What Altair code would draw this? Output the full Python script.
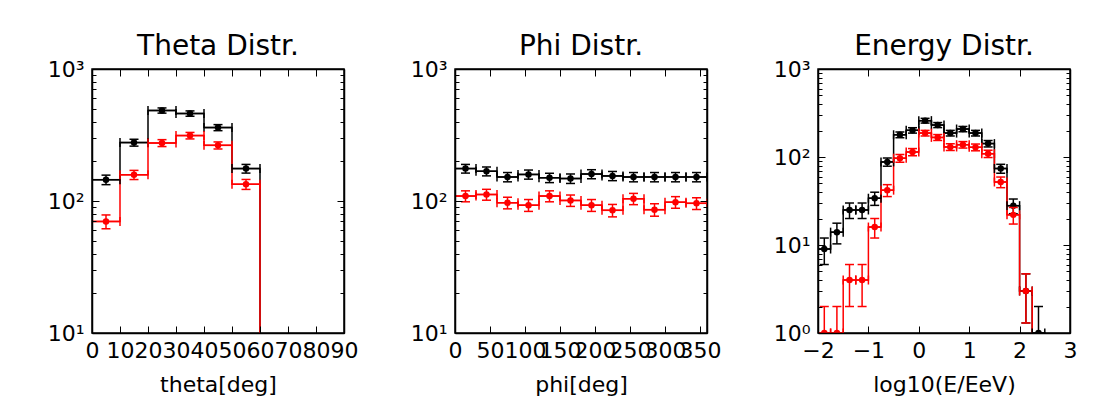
import altair as alt
import pandas as pd

FONT = "DejaVu Sans"
BLACK = "#000000"
RED = "#ff0000"

# ---------------- data ----------------
theta_edges = [0, 10, 20, 30, 40, 50, 60, 70, 80, 90]
theta_all = [145, 277, 485, 460, 360, 176, 0, 0, 0]
theta_all_err = [12.0, 16.6, 22.0, 21.4, 19.0, 13.3, 0, 0, 0]
theta_sel = [70, 158, 275, 313, 264, 134, 0, 0, 0]
theta_sel_err = [8.4, 12.6, 16.6, 17.7, 16.2, 11.6, 0, 0, 0]

phi_edges = [0, 30, 60, 90, 120, 150, 180, 210, 240, 270, 300, 330, 360]
phi_all = [176, 168, 152, 159, 150, 148, 160, 155, 152, 152, 152, 152]
phi_all_err = [13.3, 13.0, 12.3, 12.6, 12.2, 12.2, 12.6, 12.4, 12.3, 12.3, 12.3, 12.3]
phi_sel = [109, 112, 97, 93, 109, 101, 93, 85, 104, 86, 98, 96]
phi_sel_err = [10.4, 10.6, 9.8, 9.6, 10.4, 10.0, 9.6, 9.2, 10.2, 9.3, 9.9, 9.8]

energy_edges = [-2.0, -1.75, -1.5, -1.25, -1.0, -0.75, -0.5, -0.25, 0.0, 0.25,
                0.5, 0.75, 1.0, 1.25, 1.5, 1.75, 2.0, 2.25, 2.5, 2.75, 3.0]
energy_all = [9, 14, 25, 25, 34, 88, 179, 201, 259, 231, 187, 208, 187, 142, 74, 28, 3, 1, 0, 0]
energy_all_err = [3.0, 3.7, 5.0, 5.0, 5.8, 9.4, 13.4, 14.2, 16.1, 15.2, 13.7, 14.4, 13.7,
                  11.9, 8.6, 5.3, 1.7, 1.0, 0, 0]
energy_sel = [1, 1, 4, 4, 16, 42, 97, 114, 187, 167, 130, 138, 129, 109, 52, 22, 3, 0, 0, 0]
energy_sel_err = [1.0, 1.0, 2.0, 2.0, 4.0, 6.5, 9.8, 10.7, 13.7, 12.9, 11.4, 11.7, 11.4,
                  10.4, 7.2, 4.7, 1.7, 0, 0, 0]

theta_xticks = [0, 10, 20, 30, 40, 50, 60, 70, 80, 90]
phi_xticks = [0, 50, 100, 150, 200, 250, 300, 350]
energy_xticks = [-2, -1, 0, 1, 2, 3]

y_major_a = [10, 100, 1000]
y_minor_a = [20, 30, 40, 50, 60, 70, 80, 90, 200, 300, 400, 500, 600, 700, 800, 900]
y_major_e = [1, 10, 100, 1000]
y_minor_e = [2, 3, 4, 5, 6, 7, 8, 9, 20, 30, 40, 50, 60, 70, 80, 90,
             200, 300, 400, 500, 600, 700, 800, 900]

FLOOR = 0.01  # below every axis range, clipped away (stands for an empty bin)

SUP = ("'10' + (datum.value < 5 ? '\u2070' : datum.value < 50 ? '\u00b9' : "
       "datum.value < 500 ? '\u00b2' : '\u00b3')")
XLAB_E = "datum.value < 0 ? '\u2212' + format(-datum.value, 'd') : format(datum.value, 'd')"


def tables(edges, series):
    step_rows, err_rows = [], []
    for name, counts, errs in series:
        k = 0
        for j, c in enumerate(counts):
            v = c if c > 0 else FLOOR
            k += 1
            step_rows.append(dict(s=name, i=k, x=edges[j], y=v))
            k += 1
            step_rows.append(dict(s=name, i=k, x=edges[j + 1], y=v))
            if c > 0:
                lo = c - errs[j]
                err_rows.append(dict(s=name, l=edges[j], r=edges[j + 1],
                                     c=(edges[j] + edges[j + 1]) / 2, v=c,
                                     lo=lo if lo > 0 else FLOOR, hi=c + errs[j]))
    return pd.DataFrame(step_rows), pd.DataFrame(err_rows)


AX = dict(grid=False, tickColor=BLACK, tickWidth=1, zindex=1,
          domainColor=BLACK, domainWidth=1.5,
          labelFont=FONT, labelFontSize=22, labelColor=BLACK,
          titleFont=FONT, titleFontSize=22, titleColor=BLACK, titleFontWeight="normal")


def panel(title, xtitle, edges, series, xdom, xticks, ydom, ymaj, ymin, xlabexpr):
    step_df, err_df = tables(edges, series)
    xs = alt.Scale(domain=xdom, nice=False, zero=False)
    ys = alt.Scale(type="log", domain=ydom, nice=False)
    X = lambda f: alt.X(f, type="quantitative", scale=xs, axis=None)
    Y = lambda f: alt.Y(f, type="quantitative", scale=ys, axis=None)
    cols = {"all": BLACK, "sel": RED}
    layers = []
    for name in ("all", "sel"):
        sd = step_df[step_df.s == name]
        layers.append(alt.Chart(sd).mark_line(color=cols[name], strokeWidth=1.5, clip=True)
                      .encode(x=X("x"), y=Y("y"), order="i:Q"))
    for name in ("all", "sel"):
        col = cols[name]
        b = alt.Chart(err_df[err_df.s == name])
        layers += [
            b.mark_rule(color=col, strokeWidth=1.5, clip=True).encode(x=X("c"), y=Y("lo"), y2="hi:Q"),
            b.mark_rule(color=col, strokeWidth=1.5, clip=True).encode(x=X("l"), x2="r:Q", y=Y("v")),
            b.mark_tick(color=col, orient="horizontal", size=9, thickness=1.5, opacity=1, clip=True)
             .encode(x=X("c"), y=Y("lo")),
            b.mark_tick(color=col, orient="horizontal", size=9, thickness=1.5, opacity=1, clip=True)
             .encode(x=X("c"), y=Y("hi")),
            b.mark_tick(color=col, orient="vertical", size=9, thickness=1.5, opacity=1, clip=True)
             .encode(x=X("l"), y=Y("v")),
            b.mark_tick(color=col, orient="vertical", size=9, thickness=1.5, opacity=1, clip=True)
             .encode(x=X("r"), y=Y("v")),
            b.mark_point(color=col, filled=True, shape="circle", size=42, opacity=1, clip=True)
             .encode(x=X("c"), y=Y("v")),
        ]
    ax_bottom = alt.Axis(orient="bottom", values=xticks, tickSize=7, offset=-7, labelPadding=7,
                         labelExpr=xlabexpr, labelOverlap=False, labelFlush=False, labelBound=False,
                         domain=False, title=xtitle, titlePadding=13, **AX)
    ax_top = alt.Axis(orient="top", values=xticks, tickSize=7, offset=-7, labels=False,
                      domain=False, title=None, **AX)
    ax_lmaj = alt.Axis(orient="left", values=ymaj, tickSize=7, offset=-7, labelPadding=8,
                       labelExpr=SUP, labelOverlap=False, labelFlush=False, domain=False,
                       title=None, **AX)
    ax_lmin = alt.Axis(orient="left", values=ymin, tickSize=4, offset=-4, labels=False,
                       domain=False, title=None, **AX)
    ax_rmaj = alt.Axis(orient="right", values=ymaj, tickSize=7, offset=-7, labels=False,
                       domain=False, title=None, **AX)
    ax_rmin = alt.Axis(orient="right", values=ymin, tickSize=4, offset=-4, labels=False,
                       domain=False, title=None, **AX)
    # frame lines (axis domains only), drawn above the data like matplotlib spines
    fr = dict(ticks=False, labels=False, domain=True, title=None, **AX)
    ax_fb = alt.Axis(orient="bottom", **fr)
    ax_ft = alt.Axis(orient="top", **fr)
    ax_fl = alt.Axis(orient="left", **fr)
    ax_fr = alt.Axis(orient="right", **fr)
    ab = alt.Chart(err_df).mark_point(opacity=0, clip=True)
    layers += [
        ab.encode(x=alt.X("c:Q", scale=xs, axis=ax_bottom), y=alt.Y("v:Q", scale=ys, axis=ax_lmaj)),
        ab.encode(x=alt.X("c:Q", scale=xs, axis=ax_top), y=alt.Y("v:Q", scale=ys, axis=ax_lmin)),
        ab.encode(x=alt.X("c:Q", scale=xs, axis=ax_fb), y=alt.Y("v:Q", scale=ys, axis=ax_rmaj)),
        ab.encode(x=alt.X("c:Q", scale=xs, axis=ax_ft), y=alt.Y("v:Q", scale=ys, axis=ax_rmin)),
        ab.encode(x=X("c"), y=alt.Y("v:Q", scale=ys, axis=ax_fl)),
        ab.encode(x=X("c"), y=alt.Y("v:Q", scale=ys, axis=ax_fr)),
    ]
    return (alt.layer(*layers)
            .resolve_axis(x="independent", y="independent")
            .properties(width=252, height=264,
                        title=alt.TitleParams(title, font=FONT, fontSize=28, fontWeight="normal",
                                              color=BLACK, anchor="middle", offset=-3)))


p1 = panel("Theta Distr.", "theta[deg]", theta_edges,
           [("all", theta_all, theta_all_err), ("sel", theta_sel, theta_sel_err)],
           [0, 90], theta_xticks, [10, 1000], y_major_a, y_minor_a, "format(datum.value, 'd')")
p2 = panel("Phi Distr.", "phi[deg]", phi_edges,
           [("all", phi_all, phi_all_err), ("sel", phi_sel, phi_sel_err)],
           [0, 360], phi_xticks, [10, 1000], y_major_a, y_minor_a, "format(datum.value, 'd')")
p3 = panel("Energy Distr.", "log10(E/EeV)", energy_edges,
           [("all", energy_all, energy_all_err), ("sel", energy_sel, energy_sel_err)],
           [-2, 3], energy_xticks, [1, 1000], y_major_e, y_minor_e, XLAB_E)

chart = (alt.hconcat(p1, p2, p3, spacing=111, bounds="flush")
         .resolve_scale(x="independent", y="independent")
         .properties(padding={"left": 38, "top": 24, "right": 5, "bottom": 5})
         .configure(background="white")
         .configure_view(stroke=BLACK, strokeWidth=1.5))

chart.save("out.html", embed_options={"renderer": "svg", "actions": False})
